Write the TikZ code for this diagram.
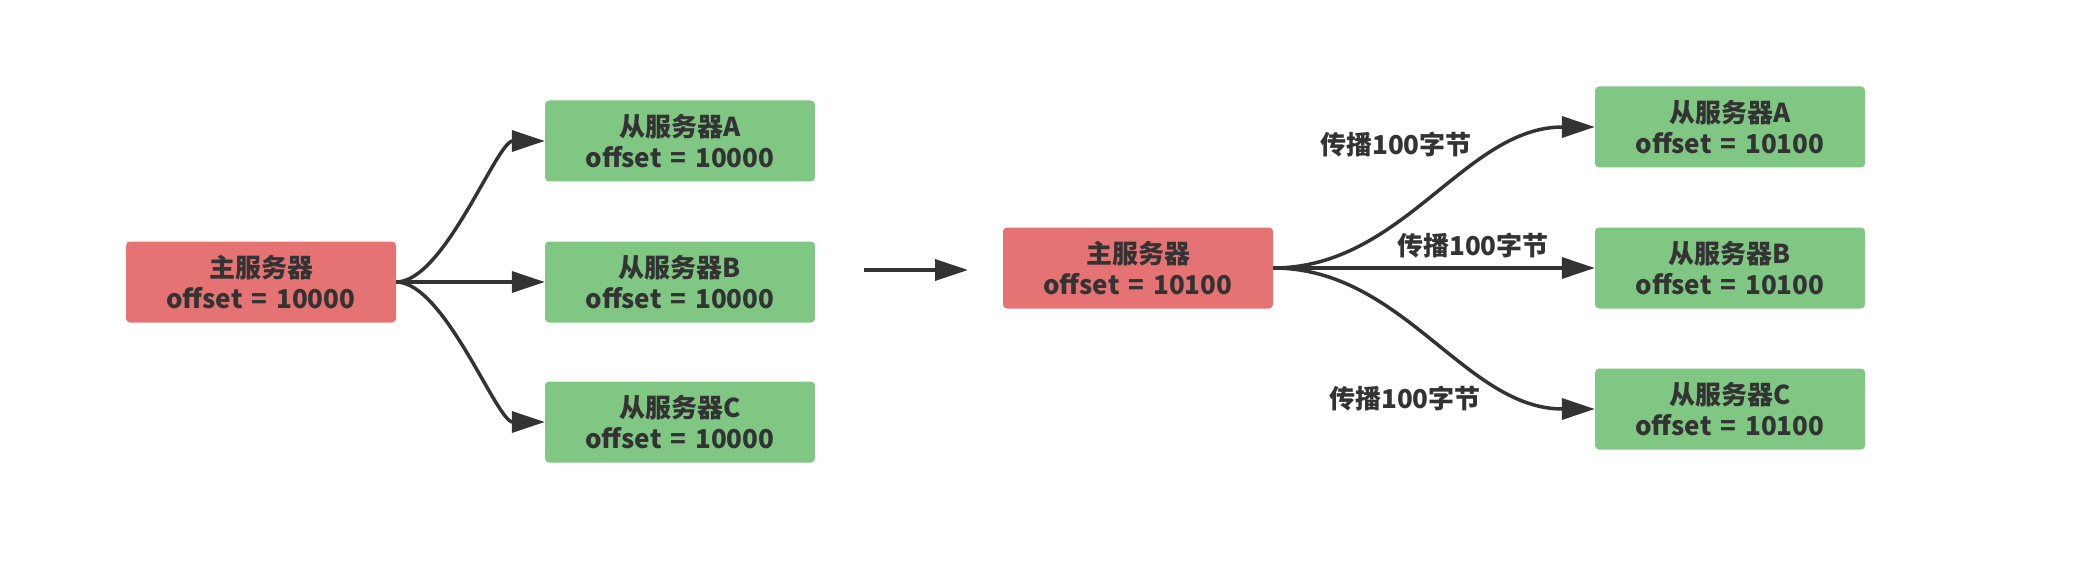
\documentclass[tikz,border=0pt]{standalone}
\usepackage{fontspec}
\setmainfont{Noto Sans CJK SC}[WordSpace={1.5}]
\usetikzlibrary{arrows.meta}
\definecolor{redfill}{HTML}{E57373}
\definecolor{greenfill}{HTML}{81C784}
\definecolor{ink}{HTML}{333333}
\tikzset{
  box/.style={rounded corners=4pt, minimum width=270pt, minimum height=81pt, inner sep=0pt,
    align=center, text=ink, font=\fontsize{26pt}{31pt}\selectfont\bfseries},
  mainbox/.style={box, fill=redfill},
  slavebox/.style={box, fill=greenfill},
  conn/.style={draw=ink, line width=3.5pt, -{Triangle[length=33pt,width=21pt]}},
  lbl/.style={text=ink, font=\fontsize{26pt}{31pt}\selectfont\bfseries, inner sep=0pt}
}
\begin{document}
\begin{tikzpicture}[x=1pt,y=-1pt]
\useasboundingbox (0,0) rectangle (2084,564);
\node[mainbox] (m1) at (261,282) {主服务器\\offset = 10000};
\node[slavebox] (a1) at (680,141) {从服务器A\\offset = 10000};
\node[slavebox] (b1) at (680,282) {从服务器B\\offset = 10000};
\node[slavebox] (c1) at (680,422) {从服务器C\\offset = 10000};
\draw[conn] (m1.east) .. controls +(48,0) and +(-48,0) .. (a1.west);
\draw[conn] (m1.east) -- (b1.west);
\draw[conn] (m1.east) .. controls +(48,0) and +(-48,0) .. (c1.west);
\coordinate (s) at (864,270);
\coordinate (e) at (968,270);
\draw[conn] (s) -- (e);
\node[mainbox] (m2) at (1138,268) {主服务器\\offset = 10100};
\node[slavebox] (a2) at (1730,127) {从服务器A\\offset = 10100};
\node[slavebox] (b2) at (1730,268) {从服务器B\\offset = 10100};
\node[slavebox] (c2) at (1730,409) {从服务器C\\offset = 10100};
\draw[conn] (m2.east) .. controls +(130,0) and +(-130,0) .. (a2.west);
\draw[conn] (m2.east) -- (b2.west);
\draw[conn] (m2.east) .. controls +(130,0) and +(-130,0) .. (c2.west);
\node[lbl] (l1) at (1396,145) {传播100字节};
\node[lbl] (l2) at (1473,246) {传播100字节};
\node[lbl] (l3) at (1405,399) {传播100字节};
\end{tikzpicture}
\end{document}
